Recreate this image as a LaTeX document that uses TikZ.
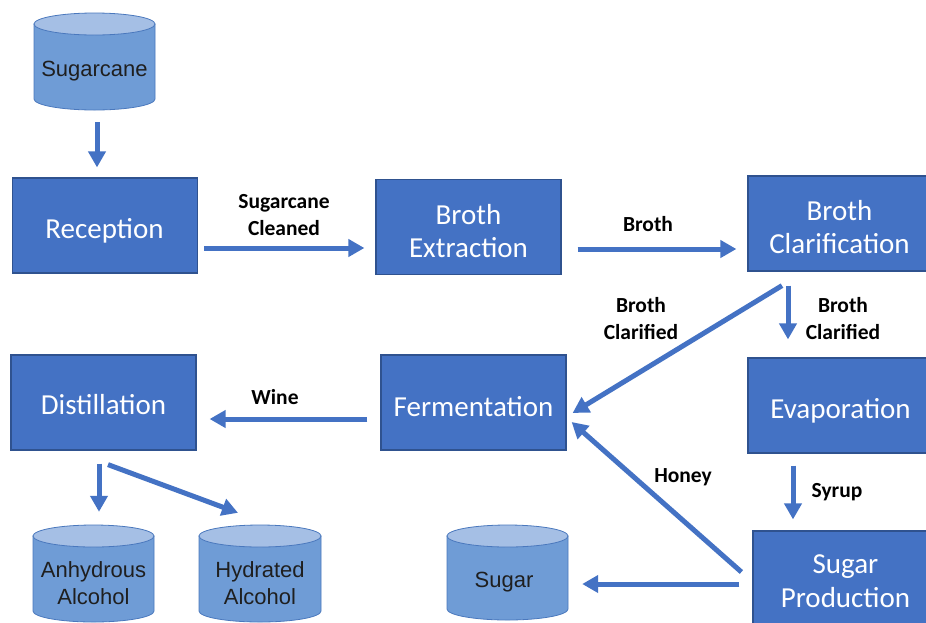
\documentclass[tikz,border=0pt]{standalone}
\usepackage{fontspec}
\setmainfont{Carlito}
\newfontfamily\cylfont{Liberation Sans}
\usetikzlibrary{arrows.meta}
\definecolor{boxblue}{HTML}{4472C4}
\definecolor{boxline}{HTML}{2F528F}
\definecolor{cylbodyc}{HTML}{6F9CD6}
\definecolor{cyltopc}{HTML}{A5BFE5}
\definecolor{cyllinec}{HTML}{4A78BD}
\definecolor{arrblue}{HTML}{4472C4}
\newcommand\drawcyl[5]{% name, cx, rx, top, bottom
  \filldraw[fill=cylbodyc, draw=cyllinec, line width=0.8pt]
    ({#2-#3},{#4+11}) -- ({#2-#3},{#5-11})
    arc[start angle=180,end angle=360,x radius=#3pt,y radius=11pt]
    -- ({#2+#3},{#4+11}) -- cycle;
  \filldraw[fill=cyltopc, draw=cyllinec, line width=0.8pt]
    (#2,{#4+11}) ellipse[x radius=#3pt, y radius=11pt];
  \node[inner sep=0pt, minimum width={2*#3pt}, minimum height={(#5-#4)*1pt}] (#1) at (#2,{(#4+#5)/2}) {};
}
\begin{document}
\begin{tikzpicture}[x=1pt,y=-1pt,
  proc/.style={rectangle, fill=boxblue, draw=boxline, line width=1.2pt,
    minimum width=185pt, minimum height=95pt, inner sep=0pt},
  ptext/.style={anchor=base, inner sep=0pt, text=white, font=\fontsize{29}{34}\selectfont},
  lbl/.style={align=center, font=\fontsize{21.5}{27}\selectfont\bfseries, text=black, inner sep=0pt},
  ctext/.style={align=center, font=\cylfont\fontsize{22}{27}\selectfont, text=black!88, inner sep=0pt},
  arr/.style={draw=arrblue, line width=5pt, -{Triangle[length=16pt,width=17pt]}},
  ]
\fill[white] (0,0) rectangle (926,622);
\useasboundingbox (0,0) rectangle (926,622);

% process boxes
\node[proc] (recep) at (105,225.5) {};
\node[ptext] (recep-t) at (104.5,238) {Reception};
\node[proc] (ext) at (468.5,227) {};
\node[ptext] (ext-t1) at (468.5,224) {Broth};
\node[ptext] (ext-t2) at (468.5,257.5) {Extraction};
\node[proc] (clar) at (840.5,223.5) {};
\node[ptext] (clar-t1) at (839.5,220) {Broth};
\node[ptext] (clar-t2) at (839.5,253.5) {Clarification};
\node[proc] (dist) at (103.5,402.5) {};
\node[ptext] (dist-t) at (103.5,414.5) {Distillation};
\node[proc] (ferm) at (473.5,402.5) {};
\node[ptext] (ferm-t) at (473.5,416) {Fermentation};
\node[proc] (evap) at (840.5,405.5) {};
\node[ptext] (evap-t) at (840.5,418.5) {Evaporation};
\node[proc] (sp) at (845.5,578.5) {};
\node[ptext] (sp-t1) at (845.5,573.5) {Sugar};
\node[ptext] (sp-t2) at (845.5,607) {Production};

% cylinders
\drawcyl{sc}{94.5}{60.5}{13}{110}
\node[ctext] (sc-t) at (94.5,71) {Sugarcane};
\drawcyl{anh}{93.5}{60.5}{525}{622}
\node[ctext] (anh-t) at (93.5,583.5) {Anhydrous\\Alcohol};
\drawcyl{hyd}{260}{61}{525}{622}
\node[ctext] (hyd-t) at (260,583.5) {Hydrated\\Alcohol};
\drawcyl{sug}{507.5}{60.5}{525}{620}
\node[ctext] (sug-t) at (504,582.5) {Sugar};

% connectors
\draw[arr] ([shift={(2.5pt,-12pt)}]sc.south) -- ([shift={(-8pt,10pt)}]recep.north);
\draw[arr] ([shift={(6pt,-22.5pt)}]recep.east) -- ([shift={(-11pt,-21pt)}]ext.west);
\draw[arr] ([shift={(16pt,-22pt)}]ext.east) -- ([shift={(-11pt,-25.5pt)}]clar.west);
\draw[arr] ([shift={(-58.5pt,-14pt)}]clar.south) -- ([shift={(6pt,-10.5pt)}]ferm.east);
\draw[arr] ([shift={(-52.5pt,-14pt)}]clar.south) -- ([shift={(-52.5pt,18pt)}]evap.north);
\draw[arr] ([shift={(-13pt,-16.5pt)}]ferm.west) -- ([shift={(13pt,-16.5pt)}]dist.east);
\draw[arr] ([shift={(-4.5pt,-13pt)}]dist.south) -- ([shift={(5.5pt,13pt)}]anh.north);
\draw[arr] ([shift={(4.5pt,-14pt)}]dist.south) -- ([shift={(-22pt,12pt)}]hyd.north);
\draw[arr] ([shift={(-47.5pt,-12pt)}]evap.south) -- ([shift={(-52.5pt,11pt)}]sp.north);
\draw[arr] ([shift={(-11pt,6.5pt)}]sp.west) -- ([shift={(5pt,-19.5pt)}]ferm.east);
\draw[arr] ([shift={(-13pt,-5.5pt)}]sp.west) -- ([shift={(14pt,-11.5pt)}]sug.east);

% labels
\node[lbl] (l-cleaned) at (284,215) {Sugarcane\\Cleaned};
\node[lbl] (l-broth) at (648,224.5) {Broth};
\node[lbl] (l-clar1) at (641,319) {Broth\\Clarified};
\node[lbl] (l-clar2) at (843,319) {Broth\\Clarified};
\node[lbl] (l-wine) at (275,397.5) {Wine};
\node[lbl] (l-honey) at (683,477.5) {Honey};
\node[lbl] (l-syrup) at (837,492.5) {Syrup};
\end{tikzpicture}
\end{document}
